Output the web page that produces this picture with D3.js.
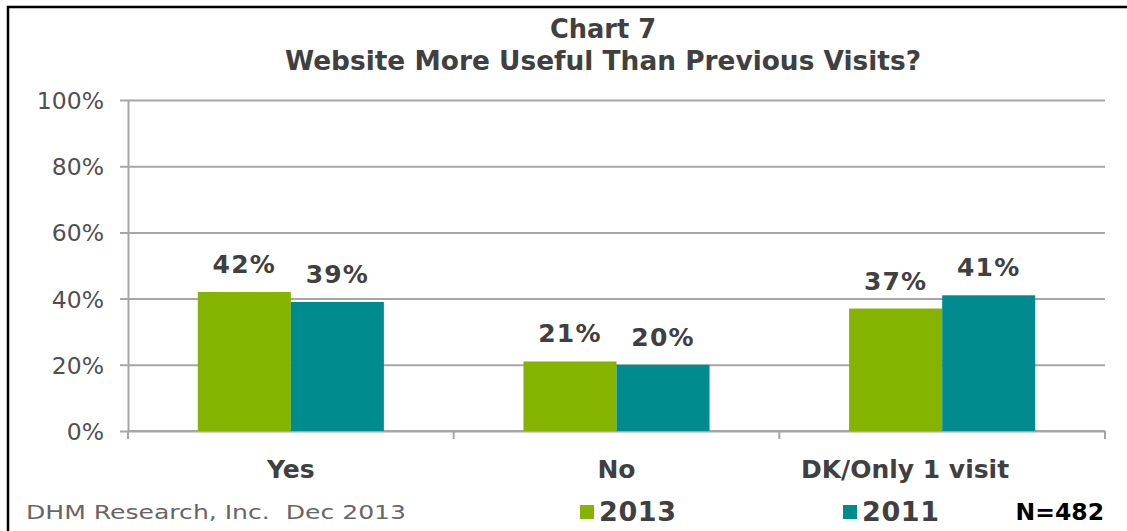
<!DOCTYPE html>
<html>
<head>
<meta charset="utf-8">
<script src="https://cdn.jsdelivr.net/npm/d3@7"></script>
<style>
  html, body { margin: 0; padding: 0; background: #fff; }
  svg { display: block; }
  text { font-family: "DejaVu Sans", Verdana, sans-serif; }
</style>
</head>
<body>
<svg id="chart" width="1127" height="531"></svg>
<script>
// Survey answers and the two waves compared
const categories = ["Yes", "No", "DK/Only 1 visit"];
const seriesNames = ["2013", "2011"];
const values2013 = [42, 21, 37];
const values2011 = [39, 20, 41];
const yTicks = [0, 20, 40, 60, 80, 100];
const titleLines = ["Chart 7", "Website More Useful Than Previous Visits?"];
const sourceNote = "DHM Research, Inc.  Dec 2013";
const sampleNote = "N=482";

const colors = { "2013": "#84b300", "2011": "#008c8f" };
const textColor = "#404040";
const gridColor = "#a6a6a6";

const svg = d3.select("#chart");
const W = 1127, H = 531;
const plot = { left: 128, right: 1105, top: 100, bottom: 431 };

// Outer frame (runs off the right and bottom edges)
svg.append("rect")
  .attr("x", 8).attr("y", 7)
  .attr("width", W + 10).attr("height", H + 10)
  .attr("fill", "none").attr("stroke", "#000").attr("stroke-width", 2.5);

// Title, two centred lines
const titleLayout = [
  { y: 38, len: 106 },
  { y: 70, len: 636 }
];
svg.selectAll(".title").data(titleLines).enter().append("text")
  .attr("x", 603)
  .attr("y", (d, i) => titleLayout[i].y)
  .attr("text-anchor", "middle")
  .attr("textLength", (d, i) => titleLayout[i].len)
  .attr("lengthAdjust", "spacingAndGlyphs")
  .attr("fill", textColor).attr("font-weight", "bold").attr("font-size", 27)
  .text(d => d);

// Scales
const y = d3.scaleLinear().domain([0, 100]).range([plot.bottom, plot.top]);
const x0 = d3.scaleBand().domain(categories).range([plot.left, plot.right]).padding(0);
const barW = x0.bandwidth() / 3.5;
const x1 = d3.scaleBand().domain(seriesNames).range([0.75 * barW, 2.75 * barW]).padding(0);

// Gridlines with short ticks left of the axis
const yAxis = d3.axisLeft(y).tickValues(yTicks)
  .tickSize(-(plot.right - plot.left)).tickSizeOuter(0)
  .tickFormat(d => d + "%");
const gy = svg.append("g").attr("transform", `translate(${plot.left},0)`).call(yAxis);
gy.select(".domain").attr("stroke", gridColor).attr("stroke-width", 2);
gy.selectAll(".tick line").attr("stroke", gridColor).attr("stroke-width", 2)
  .attr("x1", -8);
gy.selectAll(".tick text")
  .attr("fill", "#505050").attr("font-size", 23.5)
  .attr("font-family", "DejaVu Sans, Verdana, sans-serif")
  .attr("x", -24).attr("dy", "0.36em");

// Category axis: baseline plus dividing ticks between groups
const boundaries = categories.map(c => x0(c)).concat([plot.right]);
svg.append("line")
  .attr("x1", plot.left).attr("x2", plot.right)
  .attr("y1", plot.bottom).attr("y2", plot.bottom)
  .attr("stroke", gridColor).attr("stroke-width", 2);
svg.selectAll(".xtick").data(boundaries).enter().append("line")
  .attr("x1", d => d).attr("x2", d => d)
  .attr("y1", plot.bottom).attr("y2", plot.bottom + 8)
  .attr("stroke", gridColor).attr("stroke-width", 2);

// Bars
const rows = categories.map((c, i) => ({
  category: c,
  items: [
    { series: "2013", value: values2013[i] },
    { series: "2011", value: values2011[i] }
  ]
}));
const groups = svg.selectAll(".grp").data(rows).enter().append("g")
  .attr("transform", d => `translate(${x0(d.category)},0)`);
groups.selectAll("rect").data(d => d.items).enter().append("rect")
  .attr("x", d => x1(d.series))
  .attr("width", x1.bandwidth())
  .attr("y", d => y(d.value))
  .attr("height", d => y(0) - y(d.value))
  .attr("fill", d => colors[d.series]);
groups.selectAll(".val").data(d => d.items).enter().append("text")
  .attr("x", d => x1(d.series) + x1.bandwidth() / 2)
  .attr("y", d => y(d.value) - 19)
  .attr("text-anchor", "middle")
  .attr("fill", textColor).attr("font-weight", "bold").attr("font-size", 25)
  .attr("letter-spacing", 1.2)
  .text(d => d.value + "%");

// Category labels (kept clear of the right edge)
svg.selectAll(".cat").data(categories).enter().append("text")
  .attr("x", d => Math.min(x0(d) + x0.bandwidth() / 2, 905))
  .attr("y", 478)
  .attr("text-anchor", "middle")
  .attr("fill", textColor).attr("font-weight", "bold").attr("font-size", 25)
  .text(d => d);

// Source note
svg.append("text")
  .attr("x", 26).attr("y", 519)
  .attr("fill", "#666").attr("font-size", 20)
  .attr("textLength", 380).attr("lengthAdjust", "spacingAndGlyphs")
  .style("white-space", "pre")
  .text(sourceNote);

// Legend
const legendX = { "2013": 580, "2011": 843 };
seriesNames.forEach(s => {
  svg.append("rect").attr("x", legendX[s]).attr("y", 505)
    .attr("width", 14).attr("height", 14).attr("fill", colors[s]);
  svg.append("text").attr("x", legendX[s] + 19).attr("y", 521)
    .attr("fill", textColor).attr("font-weight", "bold").attr("font-size", 27)
    .attr("letter-spacing", 0.6)
    .text(s);
});

// Sample size
svg.append("text")
  .attr("x", 1104).attr("y", 520).attr("text-anchor", "end")
  .attr("fill", "#000").attr("font-weight", "bold").attr("font-size", 23.5)
  .attr("font-family", "Liberation Sans, Arial, sans-serif")
  .text(sampleNote);
</script>
</body>
</html>
